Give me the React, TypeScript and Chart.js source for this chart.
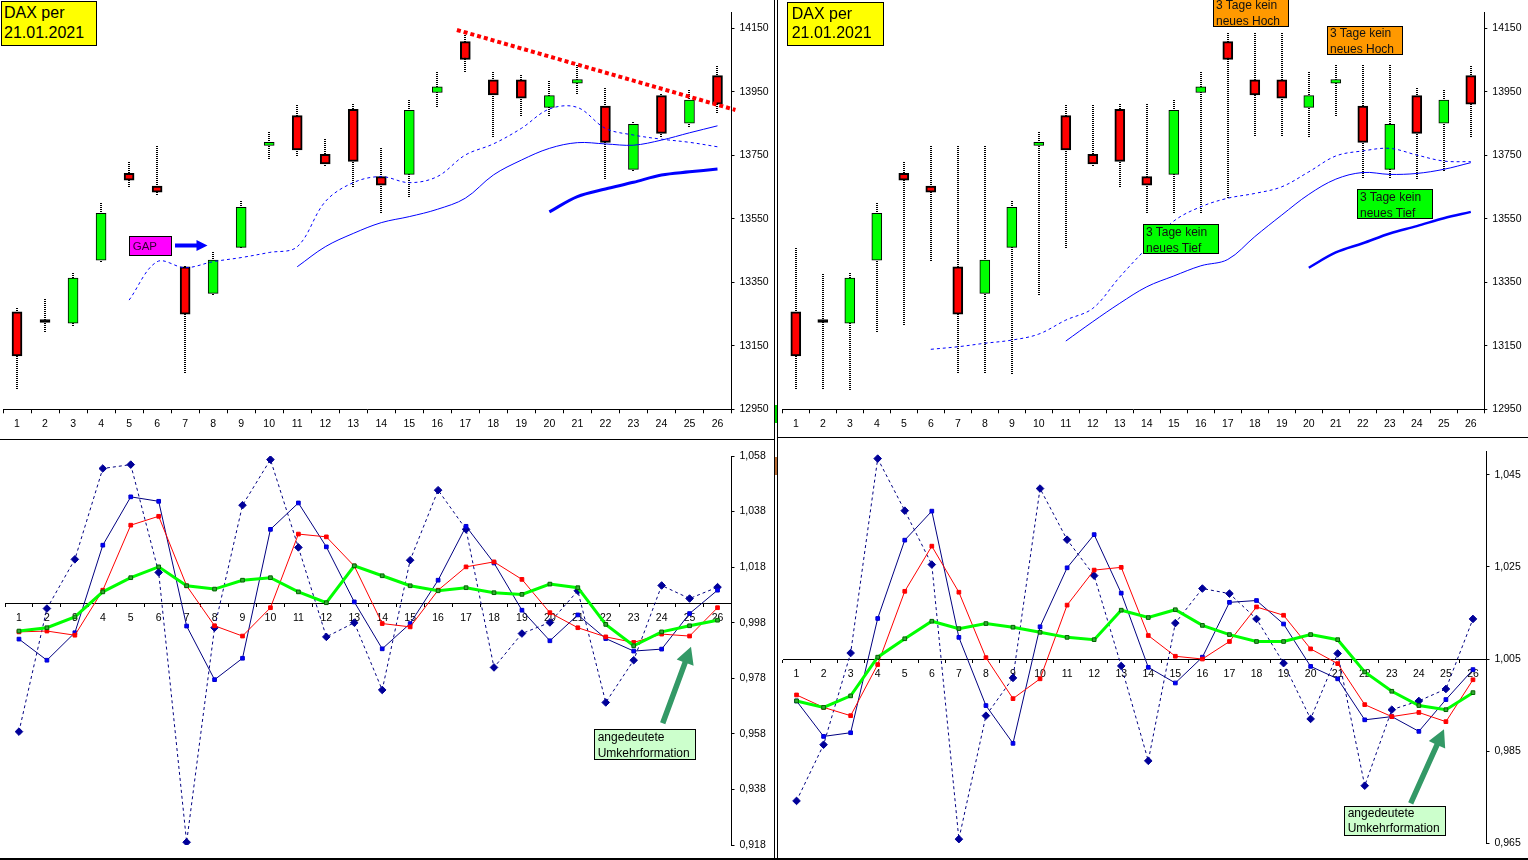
import { useEffect, useRef } from 'react';
import { Chart, registerables } from 'chart.js';

Chart.register(...registerables);

// ---------------- data ----------------
const days = ['1', '2', '3', '4', '5', '6', '7', '8', '9', '10', '11', '12', '13', '14', '15', '16', '17', '18', '19', '20', '21', '22', '23', '24', '25', '26'];

const openPx = [13257, 13224, 13221, 13420, 13693, 13653, 13399, 13315, 13460, 13781, 13875, 13753, 13895, 13683, 13690, 13948, 14108, 13988, 13988, 13901, 13977, 13905, 13706, 13938, 13851, 14001];
const closePx = [13118, 13233, 13363, 13567, 13672, 13634, 13250, 13420, 13586, 13791, 13767, 13723, 13731, 13656, 13892, 13966, 14052, 13940, 13930, 13938, 13989, 13791, 13848, 13819, 13924, 13911];
const highPx = [13268, 13297, 13378, 13601, 13728, 13780, 13402, 13444, 13606, 13822, 13908, 13801, 13911, 13772, 13924, 14011, 14134, 14011, 14003, 13984, 14034, 13961, 13854, 13942, 13956, 14031];
const lowPx = [13011, 13189, 13212, 13413, 13648, 13622, 13061, 13308, 13456, 13740, 13746, 13717, 13649, 13567, 13618, 13901, 14008, 13807, 13872, 13870, 13942, 13674, 13701, 13804, 13835, 13879];
const high3Px = [13457, 13375, 13378, 13601, 13728, 13780, 13780, 13780, 13606, 13822, 13908, 13908, 13911, 13911, 13924, 14011, 14134, 14134, 14134, 14011, 14034, 14034, 14034, 13961, 13956, 14031];
const low3Px = [13011, 13011, 13011, 13189, 13212, 13413, 13061, 13061, 13061, 13310, 13457, 13717, 13649, 13567, 13567, 13567, 13615, 13807, 13807, 13807, 13870, 13674, 13674, 13674, 13701, 13804];

const avgDashLeftStart = 5;
const avgDashLeft = [13294, 13415, 13396, 13415, 13428, 13444, 13462, 13604, 13664, 13683, 13664, 13683, 13751, 13786, 13835, 13896, 13901, 13835, 13814, 13801, 13791, 13777];
const avgSolidLeftStart = 11;
const avgSolidLeft = [13399, 13462, 13504, 13538, 13557, 13580, 13615, 13688, 13735, 13772, 13790, 13786, 13782, 13798, 13821, 13843];
const avgThickLeftStart = 20;
const avgThickLeft = [13572, 13620, 13644, 13665, 13688, 13698, 13707];

const avgDashRightStart = 6;
const avgDashRight = [13139, 13147, 13158, 13168, 13187, 13231, 13268, 13367, 13458, 13543, 13588, 13615, 13630, 13651, 13698, 13748, 13764, 13772, 13751, 13732, 13730];
const avgSolidRightStart = 11;
const avgSolidRight = [13165, 13226, 13284, 13336, 13370, 13402, 13422, 13494, 13562, 13627, 13675, 13696, 13690, 13693, 13706, 13727];
const avgThickRightStart = 20;
const avgThickRight = [13396, 13444, 13473, 13504, 13527, 13552, 13572];

const trendDays = [16.7, 26.64];
const trendLevels = [14145, 13893];

const priceTicks = [12950, 13150, 13350, 13550, 13750, 13950, 14150];

const ratioDashLeft = [0.9588, 1.0031, 1.0208, 1.0535, 1.0549, 1.0161, 0.919, 0.9962, 1.0403, 1.0567, 1.0251, 0.9929, 0.998, 0.9738, 1.0205, 1.0457, 1.0316, 0.9819, 0.9941, 0.9981, 1.0095, 0.9693, 0.9845, 1.0114, 1.0067, 1.0108];
const ratioNavyLeft = [0.9921, 0.9845, 0.9944, 1.0259, 1.0433, 1.0417, 0.9968, 0.9775, 0.9852, 1.0316, 1.0411, 1.0253, 1.0055, 0.9886, 0.9977, 1.0133, 1.0327, 1.0195, 1.0025, 0.9915, 1.0008, 0.9923, 0.9878, 0.9885, 1.0013, 1.0097];
const ratioRedLeft = [0.9947, 0.995, 0.9935, 1.0097, 1.0331, 1.0363, 1.0113, 0.9969, 0.9932, 1.0034, 1.0299, 1.0289, 1.0184, 0.9977, 0.9965, 1.0097, 1.0181, 1.0199, 1.0136, 1.0016, 0.9962, 0.9929, 0.9909, 0.9939, 0.9932, 1.0034];
const ratioGreenLeft = [0.995, 0.9962, 1.0001, 1.0091, 1.0142, 1.0181, 1.0113, 1.0101, 1.0133, 1.0142, 1.0091, 1.0052, 1.0185, 1.0149, 1.0113, 1.0095, 1.0106, 1.0088, 1.0082, 1.0119, 1.0106, 0.9974, 0.9897, 0.9947, 0.9969, 0.9989];
const ratioTicksLeft = [0.918, 0.938, 0.958, 0.978, 0.998, 1.018, 1.038, 1.058];

const ratioDashRight = [0.9742, 0.9864, 1.0063, 1.0485, 1.0372, 1.0255, 0.9659, 0.9927, 1.0009, 1.042, 1.0309, 1.0231, 1.0035, 0.9829, 1.0128, 1.0203, 1.0192, 1.0137, 1.0041, 0.992, 1.0062, 0.9775, 0.994, 0.9959, 0.9985, 1.0137];
const ratioNavyRight = [0.9959, 0.9882, 0.989, 1.0138, 1.0308, 1.0371, 1.0097, 0.9949, 0.9867, 1.012, 1.0248, 1.032, 1.0193, 1.0032, 0.9998, 1.0054, 1.0173, 1.0177, 1.0126, 1.0034, 1.0007, 0.9918, 0.9925, 0.9893, 0.9962, 1.0027];
const ratioRedRight = [0.9972, 0.9945, 0.9927, 1.0038, 1.0197, 1.0295, 1.0195, 1.0053, 0.9964, 1.0007, 1.0167, 1.0243, 1.0249, 1.0101, 1.0056, 1.005, 1.0088, 1.0163, 1.0145, 1.0072, 1.004, 0.9951, 0.9925, 0.9934, 0.9914, 1.0005];
const ratioGreenRight = [0.9959, 0.9945, 0.997, 1.0054, 1.0094, 1.0132, 1.0116, 1.0127, 1.0119, 1.0108, 1.0097, 1.0092, 1.0156, 1.014, 1.0157, 1.0123, 1.0103, 1.0088, 1.0088, 1.0103, 1.0092, 1.0022, 0.998, 0.9949, 0.994, 0.9977];
const ratioTicksRight = [0.965, 0.985, 1.005, 1.025, 1.045];

const ratioCross = 1.005;

// ---------------- helpers ----------------
const FONT_FAMILY = "'Liberation Sans', Arial, Helvetica, sans-serif";
const TICK_FONT = { family: FONT_FAMILY, size: 10.5 };

const pts = (arr: number[], start: number) => arr.map((v, i) => ({ x: start + i, y: v }));

function makeWickPlugin(high: number[], low: number[]) {
  return {
    id: 'wicks',
    beforeDatasetsDraw(chart: any) {
      const { ctx, scales } = chart;
      const x = scales.x;
      const y = scales.y;
      ctx.save();
      ctx.strokeStyle = '#000';
      ctx.lineWidth = 2;
      ctx.setLineDash([1, 1]);
      high.forEach((h, i) => {
        const px = Math.round(x.getPixelForValue(i + 1));
        ctx.beginPath();
        ctx.moveTo(px, Math.round(y.getPixelForValue(h)));
        ctx.lineTo(px, Math.round(y.getPixelForValue(low[i])));
        ctx.stroke();
      });
      ctx.restore();
    },
  };
}

function xScaleBase(position: any, tickLength: number, padding: number, xHeight?: number) {
  return {
    type: 'linear',
    min: 0.5,
    max: 26.5,
    offset: false,
    position,
    afterBuildTicks: (s: any) => {
      s.ticks = days.map((_, i) => ({ value: i + 1 }));
    },
    afterFit: (s: any) => {
      if (xHeight !== undefined) s.height = xHeight;
      s.paddingLeft = 0;
      s.paddingRight = 0;
    },
    grid: { display: true, drawOnChartArea: false, drawTicks: true, tickLength, color: '#000', lineWidth: 1, offset: true },
    border: { display: true, color: '#000', width: 1 },
    ticks: {
      autoSkip: false,
      maxRotation: 0,
      minRotation: 0,
      padding,
      color: '#000',
      font: TICK_FONT,
      callback: (v: any) => days[Math.round(v) - 1] ?? '',
    },
  };
}

function yScaleBase(min: number, max: number, ticks: number[], width: number, fmt: (v: number) => string) {
  return {
    type: 'linear',
    position: 'right',
    min,
    max,
    afterBuildTicks: (s: any) => {
      s.ticks = ticks.map((v) => ({ value: v }));
    },
    afterFit: (s: any) => {
      s.width = width;
      s.paddingTop = 0;
      s.paddingBottom = 0;
    },
    grid: { display: true, drawOnChartArea: false, drawTicks: true, tickLength: 3, color: '#000' },
    border: { display: true, color: '#000', width: 1 },
    ticks: { padding: 5, color: '#000', font: TICK_FONT, callback: (v: any) => fmt(v) },
  };
}

function candleConfig(p: any) {
  const bodies = {
    type: 'bar',
    data: openPx.map((o, i) => ({ x: i + 1, y: [o, closePx[i]] })),
    backgroundColor: openPx.map((o, i) => (Math.abs(closePx[i] - o) < 10 ? '#000' : closePx[i] < o ? '#FF0000' : '#00FF00')),
    borderColor: '#000',
    borderWidth: openPx.map((o, i) => (closePx[i] < o ? 2 : 1)),
    borderSkipped: false,
    barThickness: 10,
    order: 10,
  };
  const line = (data: any[], width: number, dash: number[], order: number) => ({
    type: 'line',
    data,
    borderColor: '#0000FF',
    borderWidth: width,
    borderDash: dash,
    pointRadius: 0,
    tension: 0.35,
    fill: false,
    order,
  });
  const datasets: any[] = [
    bodies,
    line(p.dash, 1, [3, 3], 3),
    line(p.solid, 1, [], 2),
    line(p.thick, p.thickWidth, [], 1),
  ];
  if (p.trend) {
    datasets.push({
      type: 'line',
      data: p.trend,
      borderColor: '#FF0000',
      borderWidth: 4,
      borderDash: [4, 3],
      pointRadius: 0,
      tension: 0,
      clip: false,
      order: 0,
    });
  }
  return {
    type: 'bar',
    data: { datasets },
    options: {
      responsive: false,
      animation: false,
      devicePixelRatio: 1,
      events: [],
      layout: { padding: { left: p.padLeft, top: 12.5, right: 0, bottom: 0 } },
      plugins: { legend: { display: false }, tooltip: { enabled: false } },
      scales: {
        x: xScaleBase('bottom', 4, 5, 28.7),
        y: yScaleBase(12950, 14200, priceTicks, p.yWidth, (v) => String(v)),
      },
    },
    plugins: [makeWickPlugin(p.high, p.low)],
  };
}

function ratioConfig(p: any) {
  const ds = (data: number[], o: any) => ({
    type: 'line',
    data: pts(data, 1),
    fill: false,
    tension: 0,
    ...o,
  });
  return {
    type: 'line',
    data: {
      datasets: [
        ds(p.green, { borderColor: '#00FF00', borderWidth: 3, pointStyle: 'rect', pointRadius: 2.6, pointBackgroundColor: '#33AA33', pointBorderColor: '#006600', pointBorderWidth: 1, order: 0 }),
        ds(p.red, { borderColor: '#FF0000', borderWidth: 1, pointStyle: 'rect', pointRadius: 2.6, pointBackgroundColor: '#FF0000', pointBorderColor: '#FF0000', pointBorderWidth: 1, order: 1 }),
        ds(p.navy, { borderColor: '#000080', borderWidth: 1, pointStyle: 'rect', pointRadius: 2.6, pointBackgroundColor: '#0000FF', pointBorderColor: '#0000CC', pointBorderWidth: 1, order: 2 }),
        ds(p.dash, { borderColor: '#000080', borderWidth: 1, borderDash: [3, 3], pointStyle: 'rectRot', pointRadius: 3.8, pointBackgroundColor: '#000099', pointBorderColor: '#000099', pointBorderWidth: 1, order: 3 }),
      ],
    },
    options: {
      responsive: false,
      animation: false,
      devicePixelRatio: 1,
      events: [],
      layout: { padding: { left: p.padLeft, top: p.padTop, right: 0, bottom: p.padBottom } },
      plugins: { legend: { display: false }, tooltip: { enabled: false } },
      scales: {
        x: xScaleBase({ y: ratioCross }, 3, 6),
        y: yScaleBase(p.min, p.max, p.ticks, p.yWidth, (v) => v.toFixed(3).replace('.', ',')),
      },
    },
  };
}

function ChartCanvas({ make, left, top, width, height }: any) {
  const ref = useRef<HTMLCanvasElement | null>(null);
  useEffect(() => {
    const chart = new Chart(ref.current as any, make());
    return () => chart.destroy();
  }, []);
  return <canvas ref={ref} width={width} height={height} style={{ position: 'absolute', left, top, width, height }} />;
}

function arrowPoints(tx: number, ty: number, px: number, py: number, shaft: number, headLen: number, headHalf: number) {
  const dx = px - tx;
  const dy = py - ty;
  const L = Math.hypot(dx, dy);
  const ux = dx / L;
  const uy = dy / L;
  const nx = -uy;
  const ny = ux;
  const bx = px - ux * headLen;
  const by = py - uy * headLen;
  const s = shaft / 2;
  const p = [
    [tx + nx * s, ty + ny * s],
    [bx + nx * s, by + ny * s],
    [bx + nx * headHalf, by + ny * headHalf],
    [px, py],
    [bx - nx * headHalf, by - ny * headHalf],
    [bx - nx * s, by - ny * s],
    [tx - nx * s, ty - ny * s],
  ];
  return p.map((q) => q.map((n) => n.toFixed(1)).join(',')).join(' ');
}

function Box({ left, top, width, height, bg, fontSize, lineHeight, textLeft, textTop, color = '#000', text }: any) {
  return (
    <div
      style={{
        position: 'absolute',
        left,
        top,
        width,
        height,
        boxSizing: 'border-box',
        border: '1px solid #000',
        background: bg,
        overflow: 'hidden',
      }}
    >
      <div
        style={{
          position: 'absolute',
          left: textLeft,
          top: textTop,
          fontFamily: FONT_FAMILY,
          fontSize,
          lineHeight: lineHeight + 'px',
          color,
          whiteSpace: 'pre',
        }}
      >
        {text}
      </div>
    </div>
  );
}

const line = (left: number, top: number, width: number, height: number, bg = '#000') => (
  <div style={{ position: 'absolute', left, top, width, height, background: bg }} />
);

export default function App() {
  const makeTL = () =>
    candleConfig({
      high: highPx,
      low: lowPx,
      dash: pts(avgDashLeft, avgDashLeftStart),
      solid: pts(avgSolidLeft, avgSolidLeftStart),
      thick: pts(avgThickLeft, avgThickLeftStart),
      thickWidth: 3,
      trend: trendDays.map((d, i) => ({ x: d, y: trendLevels[i] })),
      padLeft: 3,
      yWidth: 43.5,
    });
  const makeTR = () =>
    candleConfig({
      high: high3Px,
      low: low3Px,
      dash: pts(avgDashRight, avgDashRightStart),
      solid: pts(avgSolidRight, avgSolidRightStart),
      thick: pts(avgThickRight, avgThickRightStart),
      thickWidth: 2.5,
      padLeft: 4.3,
      yWidth: 43.7,
    });
  const makeBL = () =>
    ratioConfig({
      dash: ratioDashLeft,
      navy: ratioNavyLeft,
      red: ratioRedLeft,
      green: ratioGreenLeft,
      min: 0.918,
      max: 1.058,
      ticks: ratioTicksLeft,
      padLeft: 3,
      padTop: 16,
      padBottom: 14,
      yWidth: 43.5,
    });
  const makeBR = () =>
    ratioConfig({
      dash: ratioDashRight,
      navy: ratioNavyRight,
      red: ratioRedRight,
      green: ratioGreenRight,
      min: 0.965,
      max: 1.05,
      ticks: ratioTicksRight,
      padLeft: 4.5,
      padTop: 11.7,
      padBottom: 15.7,
      yWidth: 41.5,
    });

  return (
    <div style={{ position: 'fixed', left: 0, top: 0, width: 1528, height: 860, background: '#fff', overflow: 'hidden' }}>
      <ChartCanvas make={makeTL} left={0} top={0} width={775} height={438} />
      <ChartCanvas make={makeTR} left={778} top={0} width={750} height={438} />
      <ChartCanvas make={makeBL} left={0} top={440} width={775} height={419} />
      <ChartCanvas make={makeBR} left={778} top={440} width={750} height={419} />

      {line(774, 0, 1, 860)}
      {line(777, 0, 1, 860)}
      {line(775, 405, 2, 18, '#00DD00')}
      {line(775, 457, 2, 18, '#B8703A')}
      {line(0, 439, 774, 1)}
      {line(778, 437, 750, 1)}
      {line(0, 858, 1528, 2)}

      <svg width={1528} height={860} style={{ position: 'absolute', left: 0, top: 0, pointerEvents: 'none' }}>
        <polygon points={arrowPoints(175, 245.5, 207.5, 245.5, 4, 11, 5.5)} fill="#0000FF" />
        <polygon points={arrowPoints(662.7, 723.3, 691, 646.7, 5.5, 17, 9)} fill="#339966" />
        <polygon points={arrowPoints(1410.7, 803.3, 1444, 729.3, 5.5, 17, 9)} fill="#339966" />
      </svg>

      <Box left={1} top={1} width={96} height={45} bg="#FFFF00" fontSize={16} lineHeight={19.5} textLeft={2} textTop={1} text={'DAX per\n21.01.2021'} />
      <Box left={787} top={2} width={97} height={44} bg="#FFFF00" fontSize={16} lineHeight={19.5} textLeft={3.7} textTop={0.5} text={'DAX per\n21.01.2021'} />
      <Box left={129} top={236} width={43} height={20} bg="#FF00FF" fontSize={11.5} lineHeight={14} textLeft={2.7} textTop={1.5} color="#330033" text="GAP" />

      <Box left={1213} top={-2.5} width={76} height={29} bg="#FF9900" fontSize={12} lineHeight={16} textLeft={2} textTop={-1.5} color="#111" text={'3 Tage kein\nneues Hoch'} />
      <Box left={1327} top={25.7} width={76} height={29.3} bg="#FF9900" fontSize={12} lineHeight={16} textLeft={2} textTop={-1.4} color="#111" text={'3 Tage kein\nneues Hoch'} />
      <Box left={1143.3} top={224.3} width={76} height={30} bg="#00FF00" fontSize={12} lineHeight={16} textLeft={1.7} textTop={-1} color="#111" text={'3 Tage kein\nneues Tief'} />
      <Box left={1357.3} top={189.3} width={76} height={30} bg="#00FF00" fontSize={12} lineHeight={16} textLeft={1.7} textTop={-1} color="#111" text={'3 Tage kein\nneues Tief'} />

      <Box left={594.3} top={729.3} width={101.7} height={30.7} bg="#CCFFCC" fontSize={12} lineHeight={15.7} textLeft={2.4} textTop={-0.5} text={'angedeutete\nUmkehrformation'} />
      <Box left={1344.3} top={805.7} width={101.7} height={30.3} bg="#CCFFCC" fontSize={12} lineHeight={15.7} textLeft={2.4} textTop={-1.2} text={'angedeutete\nUmkehrformation'} />
    </div>
  );
}
